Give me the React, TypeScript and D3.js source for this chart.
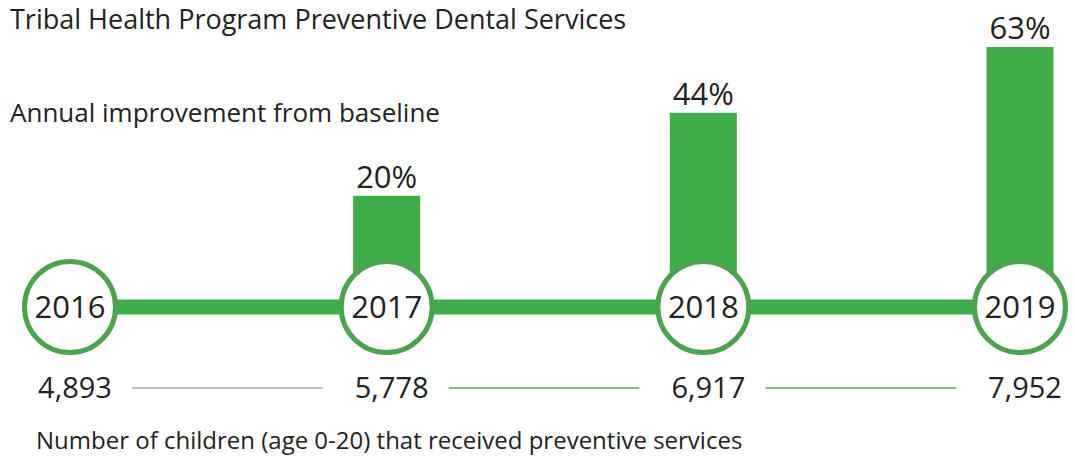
import React from "react";
import * as d3 from "d3";

const years = ["2016", "2017", "2018", "2019"];
const improvement = [null, 20, 44, 63];
const children = [4893, 5778, 6917, 7952];
const title = "Tribal Health Program Preventive Dental Services";
const subtitleTop = "Annual improvement from baseline";
const subtitleBottom = "Number of children (age 0-20) that received preventive services";

const W = 1075;
const H = 458;
const FONT = "'Open Sans', 'Noto Sans', sans-serif";
const GREEN = "#3fad48";
const RING = "#4ba34e";
const TEXT = "#222";

export default function App() {
  const x = d3.scalePoint<string>().domain(years).range([70, 1020]);
  const y = d3.scaleLinear().domain([0, 63]).range([265, 47]);
  const cy = 307;
  const r = 45.5;
  const barW = 67;
  const numY = 398;
  const fmt = d3.format(",");
  const gapL = 62;
  const gapR = 64;

  return (
    <svg
      width={W}
      height={H}
      style={{ position: "absolute", left: 0, top: 0, background: "#fff" }}
      fontFamily={FONT}
    >
      <rect width={W} height={H} fill="#fff" />
      <text x={10} y={29} fontSize={27} fill={TEXT}>{title}</text>
      <text x={10} y={122} fontSize={26} fill={TEXT}>{subtitleTop}</text>

      {/* connecting thick line */}
      <line x1={x(years[0])} x2={x(years[years.length - 1])} y1={cy} y2={cy} stroke={GREEN} strokeWidth={15} />

      {/* bars */}
      {years.map((yr, i) => {
        const v = improvement[i];
        if (v == null) return null;
        const cx = x(yr) as number;
        return (
          <g key={"b" + yr}>
            <rect x={cx - barW / 2} y={y(v)} width={barW} height={cy - y(v)} fill={GREEN} />
            <text x={cx} y={y(v) - 8} fontSize={31} textAnchor="middle" fill={TEXT}>{v + "%"}</text>
          </g>
        );
      })}

      {/* circles */}
      {years.map((yr) => {
        const cx = x(yr) as number;
        return (
          <g key={"c" + yr}>
            <circle cx={cx} cy={cy} r={r} fill="#fff" stroke={RING} strokeWidth={5} />
            <text x={cx} y={cy + 11} fontSize={31} textAnchor="middle" fill={TEXT}>{yr}</text>
          </g>
        );
      })}

      {/* numbers */}
      {years.map((yr, i) => {
        const cx = x(yr) as number;
        return (
          <text key={"n" + yr} x={cx + 5} y={numY} fontSize={29} textAnchor="middle" fill={TEXT}>
            {fmt(children[i])}
          </text>
        );
      })}
      {years.slice(0, -1).map((yr, i) => {
        const a = (x(yr) as number) + gapL;
        const b = (x(years[i + 1]) as number) - gapR;
        return (
          <line key={"l" + yr} x1={a} x2={b} y1={numY - 10} y2={numY - 10}
            stroke={i === 0 ? "#b3c4b3" : "#5aa95a"} strokeWidth={i === 0 ? 2 : 1.5} />
        );
      })}

      <text x={36} y={449} fontSize={24} fill={TEXT}>{subtitleBottom}</text>
    </svg>
  );
}
